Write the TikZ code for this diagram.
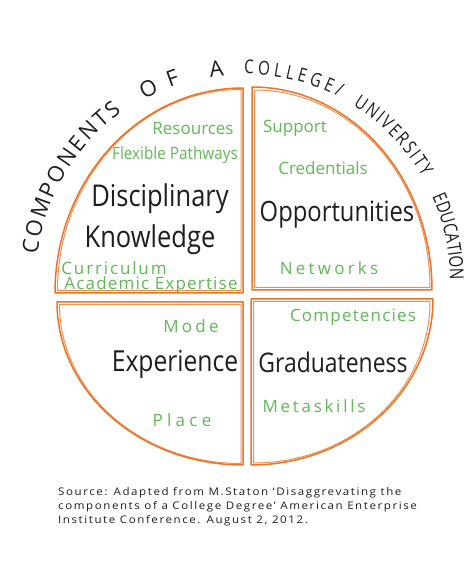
\documentclass[tikz,border=0pt]{standalone}
\usepackage{fontspec}
\setmainfont{Open Sans}
\usepackage{graphicx}
\usetikzlibrary{decorations.text}
\definecolor{sketchorange}{RGB}{232,117,40}
\definecolor{sketchgreen}{RGB}{98,184,88}
\definecolor{inkblack}{RGB}{30,30,30}
\newcommand\ttlfont{\fontsize{19}{19}\selectfont\addfontfeature{FakeStretch=0.8}\color{inkblack}}
\newcommand\ttlbigfont{\fontsize{22}{22}\selectfont\color{inkblack}}
\tikzset{
  quad/.style={draw=sketchorange, line width=1.5pt, line join=round},
  quadb/.style={draw=sketchorange, line width=1pt, opacity=0.8, line join=round},
  big/.style={text=inkblack, font={\fontsize{#1}{#1}\selectfont\addfontfeature{FakeStretch=0.85}}, inner sep=0pt, anchor=base},
  big/.default=30,
  sub/.style={text=sketchgreen, font={\fontsize{17}{19}\selectfont\addfontfeature{LetterSpace=#1}}, inner sep=0pt, anchor=base},
  sub/.default=0,
  src/.style={text=inkblack, font={\fontsize{10.5}{12}\selectfont\addfontfeature{LetterSpace=15,FakeStretch=1.1}}, anchor=base west, inner sep=0pt},
  ttl/.style={text=inkblack, font={\ttlbigfont}, inner sep=0pt, anchor=base},
  ttlarc/.style={decorate, decoration={text along path, text align={fit to path}, text={|\ttlfont|#1}}},
  ttlbigarc/.style={decorate, decoration={text along path, text align={fit to path}, text={|\ttlbigfont|#1}}}
}
\begin{document}
\begin{tikzpicture}[x=1pt, y=1pt]
\useasboundingbox (0,0) rectangle (472,582);
\fill[white] (0,0) rectangle (472,582);
% quadrants
\draw[quad] (243,289) -- (55,289) arc[start angle=180, end angle=90, x radius=188, y radius=205] -- cycle;
\draw[quadb] (241,291.5) -- (57.5,291.5) arc[start angle=180, end angle=90, x radius=183.5, y radius=201] -- cycle;
\draw[quad] (252,292) -- (252,495) arc[start angle=90, end angle=0, x radius=180, y radius=203] -- cycle;
\draw[quadb] (254.5,294.5) -- (254.5,492) arc[start angle=90, end angle=0, x radius=175.5, y radius=197.5] -- cycle;
\draw[quad] (243,280) -- (57,280) arc[start angle=180, end angle=270, x radius=186, y radius=163] -- cycle;
\draw[quadb] (241,277.5) -- (59.5,277.5) arc[start angle=180, end angle=270, x radius=181.5, y radius=159] -- cycle;
\draw[quad] (251,283) -- (433,283) arc[start angle=0, end angle=-90, x radius=182, y radius=166] -- cycle;
\draw[quadb] (253.5,280.5) -- (430,280.5) arc[start angle=0, end angle=-90, x radius=176.5, y radius=161.5] -- cycle;
% title along the arc
\coordinate (ctr) at (244,302);
\path[ttlbigarc=COMPONENTS] ([shift={(173:208)}]ctr) arc[start angle=173, end angle=126, radius=208];
\path[ttlbigarc=OF] ([shift={(119:206)}]ctr) arc[start angle=119, end angle=108, radius=206];
\node[ttl, rotate=7.5] (titleA) at ([shift={(97.5:205)}]ctr) {A};
\path[ttlarc=COLLEGE/] ([shift={(90:206)}]ctr) arc[start angle=90, end angle=62.5, radius=206];
\path[ttlarc=UNIVERSITY] ([shift={(58:206)}]ctr) arc[start angle=58, end angle=30, radius=206];
\path[ttlarc=EDUCATION] ([shift={(24:206)}]ctr) arc[start angle=24, end angle=0, radius=206];
% top-left
\node[sub] (res) at (193,447) {Resources};
\node[sub, font={\fontsize{17}{19}\selectfont\addfontfeature{FakeStretch=0.9}}] (flex) at (175,422) {Flexible Pathways};
\node[big] (disc) at (160,375) {Disciplinary};
\node[big] (know) at (150,334) {Knowledge};
\node[sub=11] (curr) at (114,307) {Curriculum};
\node[sub=7] (acad) at (151,292) {Academic Expertise};
% top-right
\node[sub] (supp) at (295,449) {Support};
\node[sub] (cred) at (323,407) {Credentials};
\node[big=28] (opp) at (337,360) {Opportunities};
\node[sub=19] (netw) at (329,307) {Networks};
% bottom-left
\node[sub=19] (mode) at (191,249) {Mode};
\node[big=29] (exper) at (175,210) {Experience};
\node[sub=25] (place) at (182,155) {Place};
% bottom-right
\node[sub=7] (comp) at (353,260) {Competencies};
\node[big=27] (grad) at (333,209) {Graduateness};
\node[sub=16] (meta) at (314,169) {Metaskills};
% source
\node[src] (src1) at (58,86) {Source: Adapted from M.Staton ‘Disaggrevating the};
\node[src] (src2) at (58,72) {components of a College Degree’ American Enterprise};
\node[src] (src3) at (58,59) {Institute Conference. August 2, 2012.};
\end{tikzpicture}
\end{document}
